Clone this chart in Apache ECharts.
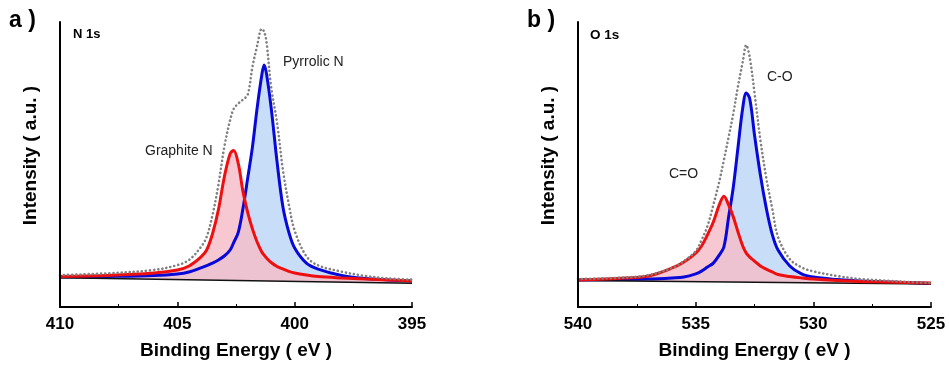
<!DOCTYPE html>
<html>
<head>
<meta charset="utf-8">
<script src="https://cdn.jsdelivr.net/npm/echarts@6/dist/echarts.min.js"></script>
<style>
  html, body { margin: 0; padding: 0; background: #fff; }
  #chart { width: 949px; height: 367px; }
</style>
</head>
<body>
<div id="chart"></div>
<script>
// N 1s panel (binding energy in eV, intensity in a.u.)
const energyN = [410, 408, 406, 405, 404.5, 404, 403.75, 403.5, 403.25, 403, 402.75, 402.6, 402.4, 402.2, 402,
  401.8, 401.6, 401.4, 401.3, 401.2, 401, 400.75, 400.5, 400.25, 400, 399.5, 399, 398, 397, 396, 395];
const totalN = [11.2, 11.8, 13.0, 14.7, 16.5, 21.0, 24.6, 32.3, 42.8, 56.1, 65.6, 69.5, 71.4, 72.8, 74.5,
  84.2, 91.6, 97.6, 96.6, 93.0, 77.0, 64.6, 48.0, 36.1, 26.8, 17.8, 14.6, 12.4, 10.9, 10.0, 9.6];
const pyrrolicN = [10.5, 10.7, 11.05, 11.6, 12.3, 13.7, 14.5, 15.4, 16.5, 17.9, 20.0, 22.6, 26.3, 34.7, 45.3,
  56.1, 69.8, 81.4, 84.9, 81.8, 69.8, 50.9, 35.1, 26.3, 20.7, 15.4, 13.3, 11.05, 10.0, 9.5, 9.1];
const graphiteN = [10.7, 11.05, 11.9, 13.0, 14.4, 17.5, 20.0, 25.7, 34.1, 45.5, 53.8, 54.9, 50.2, 40.4, 33.1,
  27.4, 22.8, 19.3, 18.2, 17.2, 15.6, 14.2, 13.3, 12.5, 11.9, 11.2, 10.7, 10.2, 9.8, 9.5, 9.1];
const baseEnergyN = [410, 395];
const baselineN = [10.3, 8.3];

// O 1s panel
const energyO = [540, 538, 537, 536, 535.5, 535, 534.75, 534.5, 534.25, 534, 533.8, 533.6, 533.4, 533.2, 533,
  532.85, 532.7, 532.5, 532.25, 532, 531.75, 531.5, 531, 530.5, 530, 529, 528, 527, 526, 525];
const totalO = [9.8, 10.35, 11.2, 13.7, 16.1, 19.6, 23.5, 28.4, 35.8, 43.9, 51.6, 59.6, 67.9, 77.5, 86.0,
  91.9, 87.4, 75.1, 58.6, 45.3, 34.7, 24.6, 16.8, 13.9, 12.5, 10.9, 9.8, 9.3, 8.8, 8.4];
const coO = [9.5, 9.65, 9.8, 10.2, 10.5, 11.6, 12.6, 14.0, 15.4, 18.2, 21.1, 31.6, 42.1, 56.1, 69.8,
  75.1, 73.0, 60.4, 46.3, 34.7, 25.6, 20.0, 14.4, 11.6, 10.5, 9.65, 9.1, 8.8, 8.6, 8.25];
const cdoO = [9.5, 10.2, 10.9, 13.7, 15.8, 18.9, 21.4, 25.3, 29.8, 35.8, 38.9, 35.8, 31.6, 26.3, 21.4,
  18.9, 17.5, 16.1, 14.4, 13.3, 12.3, 11.4, 10.7, 10.2, 9.8, 9.3, 8.95, 8.8, 8.6, 8.4];
const baseEnergyO = [540, 525];
const baselineO = [9.3, 8.1];

const xTicksN = [395, 410];
const xTicksO = [525, 540];

const FONT = '"Liberation Sans", Arial, sans-serif';
const BLUE = '#0808d8';
const RED = '#ee1010';

function pairs(xs, ys) {
  return xs.map((x, i) => [x, ys[i]]);
}

function xAxisFor(idx, range) {
  return {
    type: 'value',
    gridIndex: idx,
    min: range[0],
    max: range[1],
    interval: 5,
    inverse: true,
    z: 10,
    name: 'Binding Energy ( eV )',
    nameLocation: 'middle',
    nameGap: 34,
    nameTextStyle: { fontFamily: FONT, fontWeight: 'bold', fontSize: 19, color: '#000' },
    axisLine: { show: true, lineStyle: { color: '#000', width: 2 } },
    axisTick: { show: true, inside: true, length: 5, lineStyle: { color: '#000', width: 1.5 } },
    minorTick: { show: true, splitNumber: 2, length: 3, lineStyle: { color: '#000', width: 1 } },
    axisLabel: { fontFamily: FONT, fontWeight: 'bold', fontSize: 17, color: '#000', margin: 9 },
    splitLine: { show: false }
  };
}

function yAxisFor(idx) {
  return {
    type: 'value',
    gridIndex: idx,
    min: 0,
    max: 100,
    z: 10,
    name: 'Intensity ( a.u. )',
    nameLocation: 'middle',
    nameGap: 20,
    nameTextStyle: { fontFamily: FONT, fontWeight: 'bold', fontSize: 19, color: '#000', padding: [0, 0, 0, 18] },
    axisLine: { show: true, onZero: false, lineStyle: { color: '#000', width: 2 } },
    axisTick: { show: false },
    axisLabel: { show: false },
    splitLine: { show: false }
  };
}

function panelSeries(idx, energy, total, blueVals, redVals, baseX, baseY) {
  const common = { type: 'line', xAxisIndex: idx, yAxisIndex: idx, symbol: 'none', animation: false };
  return [
    // blue component with its fill
    { ...common, smooth: 0.35, data: pairs(energy, blueVals),
      lineStyle: { color: BLUE, width: 3 },
      areaStyle: { color: 'rgba(145,189,241,0.5)', opacity: 1 } },
    // red component fill, drawn over the blue line
    { ...common, smooth: 0.35, data: pairs(energy, redVals),
      lineStyle: { width: 0, opacity: 0 },
      areaStyle: { color: 'rgba(246,186,199,0.8)', opacity: 1 } },
    // white below the baseline
    { ...common, data: pairs(baseX, baseY),
      lineStyle: { width: 0, opacity: 0 },
      areaStyle: { color: '#ffffff', opacity: 1 } },
    { ...common, data: pairs(baseX, baseY),
      lineStyle: { color: '#111', width: 1.5 } },
    { ...common, smooth: 0.35, data: pairs(energy, redVals),
      lineStyle: { color: RED, width: 3 } },
    { ...common, smooth: 0.35, data: pairs(energy, total),
      lineStyle: { color: '#808080', width: 2.6, type: [0.1, 4], cap: 'round' } }
  ];
}

function label(text, left, top, size, bold, color) {
  return {
    type: 'text', left: left, top: top,
    style: { text: text, font: (bold ? 'bold ' : '') + size + 'px ' + FONT, fill: color }
  };
}

const chart = echarts.init(document.getElementById('chart'), null, { renderer: 'canvas' });

const option = {
  backgroundColor: '#fff',
  animation: false,
  grid: [
    { left: 60, top: 22, width: 352, height: 285 },
    { left: 578, top: 22, width: 353, height: 285 }
  ],
  xAxis: [xAxisFor(0, xTicksN), xAxisFor(1, xTicksO)],
  yAxis: [yAxisFor(0), yAxisFor(1)],
  series: [
    ...panelSeries(0, energyN, totalN, pyrrolicN, graphiteN, baseEnergyN, baselineN),
    ...panelSeries(1, energyO, totalO, coO, cdoO, baseEnergyO, baselineO)
  ],
  graphic: [
    label('a )', 9, 9, 23, true, '#000'),
    label('b )', 527, 9, 23, true, '#000'),
    label('N 1s', 73, 28, 13, true, '#000'),
    label('O 1s', 590, 28, 13.5, true, '#000'),
    label('Pyrrolic N', 283, 55, 14, false, '#222'),
    label('Graphite N', 145, 144, 14, false, '#222'),
    label('C-O', 767, 70, 14, false, '#222'),
    label('C=O', 669, 167, 14, false, '#222')
  ]
};

chart.setOption(option);
</script>
</body>
</html>
